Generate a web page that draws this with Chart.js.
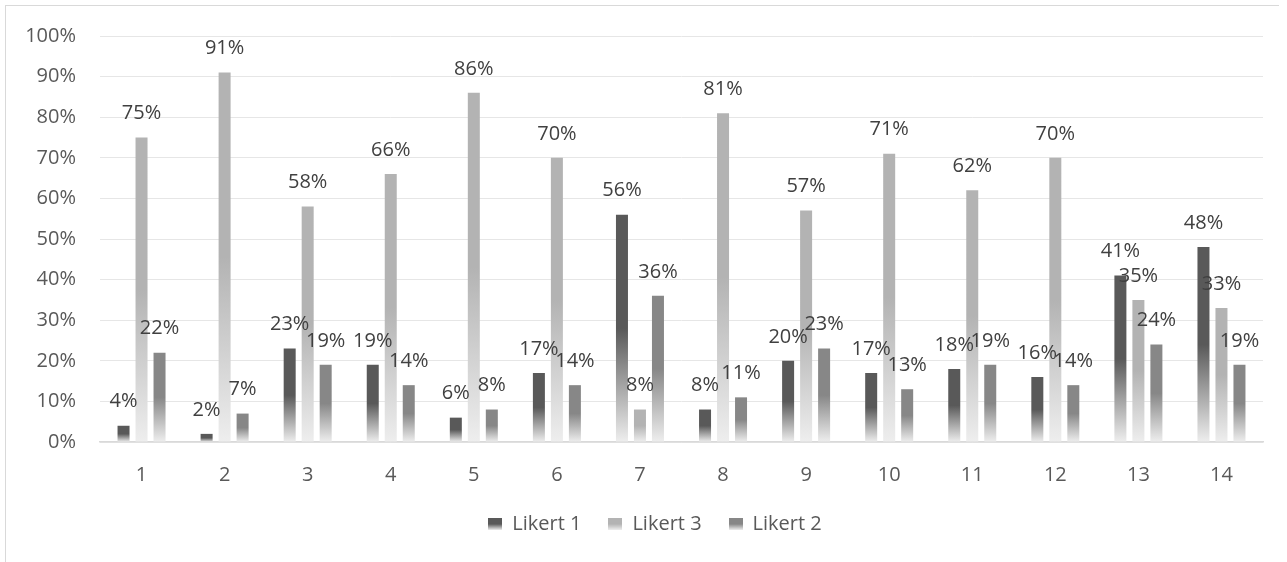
<!DOCTYPE html>
<html>
<head>
<meta charset="utf-8">
<script src="https://cdn.jsdelivr.net/npm/chart.js@4.4.1/dist/chart.umd.min.js"></script>
<style>
  html, body { margin: 0; padding: 0; background: #fff; }
  #frame {
    position: absolute; left: 5px; top: 5px; width: 1273px; height: 600px;
    border-left: 1.5px solid #d9d9d9; border-top: 1.5px solid #d9d9d9;
  }
  #wrap { position: absolute; left: 0; top: 0; width: 1287px; height: 562px; }
</style>
</head>
<body>
<div id="frame"></div>
<div id="wrap"><canvas id="c" width="1287" height="562"></canvas></div>
<script>
// Question numbers along the x axis
const categories = ['1','2','3','4','5','6','7','8','9','10','11','12','13','14'];
// Share of answers per Likert level, in percent
const likert1 = [4, 2, 23, 19, 6, 17, 56, 8, 20, 17, 18, 16, 41, 48];
const likert3 = [75, 91, 58, 66, 86, 70, 8, 81, 57, 71, 62, 70, 35, 33];
const likert2 = [22, 7, 19, 14, 8, 14, 36, 11, 23, 13, 19, 14, 24, 19];
const yTicks = [0, 10, 20, 30, 40, 50, 60, 70, 80, 90, 100];

const FONT = "'Open Sans', 'Liberation Sans', sans-serif";
const FADE = '#eeeeee';

// Vertical fill per bar: solid in the upper half, fading out towards the base
function barFill(color) {
  return (ctx) => {
    const chart = ctx.chart;
    if (!chart.chartArea || ctx.type !== 'data') return color;
    const y = chart.scales.y;
    const top = y.getPixelForValue(ctx.raw);
    const base = y.getPixelForValue(0);
    if (base - top < 1) return color;
    const g = chart.ctx.createLinearGradient(0, top, 0, base);
    g.addColorStop(0, color);
    g.addColorStop(0.5, color);
    g.addColorStop(1, FADE);
    return g;
  };
}

// Small swatch for the legend with the same fade
function swatch(color) {
  const c = document.createElement('canvas');
  c.width = 14; c.height = 12;
  const x = c.getContext('2d');
  const g = x.createLinearGradient(0, 0, 0, 12);
  g.addColorStop(0, color);
  g.addColorStop(0.5, color);
  g.addColorStop(1, FADE);
  x.fillStyle = g;
  x.fillRect(0, 0, 14, 12);
  return c;
}

const series = [
  { label: 'Likert 1', data: likert1, color: '#595959' },
  { label: 'Likert 3', data: likert3, color: '#b3b3b3' },
  { label: 'Likert 2', data: likert2, color: '#878787' }
];

// Percent labels above each bar
const valueLabels = {
  id: 'valueLabels',
  afterDatasetsDraw(chart) {
    const ctx = chart.ctx;
    ctx.save();
    ctx.font = '20px ' + FONT;
    ctx.fillStyle = '#404040';
    ctx.textAlign = 'center';
    ctx.textBaseline = 'middle';
    chart.data.datasets.forEach((ds, i) => {
      const meta = chart.getDatasetMeta(i);
      meta.data.forEach((bar, j) => {
        ctx.fillText(ds.data[j] + '%', bar.x, bar.y - 24);
      });
    });
    ctx.restore();
  }
};

// Center the legend row under the frame rather than the full canvas
const legendShift = {
  id: 'legendShift',
  beforeDraw(chart) {
    if (chart.legend) chart.legend.left = 47;
  }
};

new Chart(document.getElementById('c'), {
  type: 'bar',
  data: {
    labels: categories,
    datasets: series.map(s => ({
      label: s.label,
      data: s.data,
      backgroundColor: barFill(s.color),
      swatchColor: s.color,
      borderWidth: 0,
      categoryPercentage: 0.65,
      barPercentage: 0.667
    }))
  },
  options: {
    responsive: false,
    animation: false,
    layout: { padding: { left: 6, right: 24, top: 33, bottom: 18 } },
    plugins: {
      tooltip: { enabled: false },
      legend: {
        position: 'bottom',
        labels: {
          usePointStyle: true,
          boxWidth: 14,
          boxHeight: 12,
          padding: 27,
          color: '#595959',
          font: { family: FONT, size: 20 },
          generateLabels(chart) {
            return chart.data.datasets.map((ds, i) => ({
              text: ds.label,
              pointStyle: swatch(ds.swatchColor),
              fillStyle: ds.swatchColor,
              strokeStyle: ds.swatchColor,
              lineWidth: 0,
              hidden: false,
              datasetIndex: i,
              fontColor: '#595959'
            }));
          }
        }
      }
    },
    scales: {
      x: {
        grid: { display: false, drawTicks: false },
        border: { display: true, color: '#d9d9d9', width: 1.5 },
        ticks: { color: '#595959', padding: 21, font: { family: FONT, size: 20 } },
        afterFit(scale) { scale.height = 45; }
      },
      y: {
        min: 0, max: 100,
        afterBuildTicks(scale) { scale.ticks = yTicks.map(v => ({ value: v })); },
        grid: { color: '#e6e6e6', lineWidth: 1, drawTicks: false },
        border: { display: false },
        ticks: {
          color: '#595959', padding: 24,
          font: { family: FONT, size: 20 },
          callback: v => v + '%'
        },
        afterFit(scale) { scale.width = 94; }
      }
    }
  },
  plugins: [valueLabels, legendShift]
});
</script>
</body>
</html>
